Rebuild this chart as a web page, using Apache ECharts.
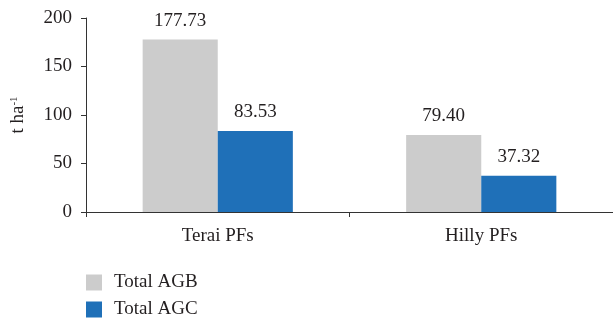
<!DOCTYPE html>
<html>
<head>
<meta charset="utf-8">
<script src="https://cdn.jsdelivr.net/npm/echarts@6/dist/echarts.min.js"></script>
<style>
  html, body { margin: 0; padding: 0; background: #fff; }
  #chart { width: 613px; height: 319px; }
</style>
</head>
<body>
<div id="chart"></div>
<script>
const categories = ['Terai PFs', 'Hilly PFs']
const agbValues = [177.73, 79.40]
const agcValues = [83.53, 37.32]
const yTicks = [0, 50, 100, 150, 200]

const font = 'Liberation Serif'
const textColor = '#231f20'

const chart = echarts.init(document.getElementById('chart'))
chart.setOption({
  animation: false,
  textStyle: { fontFamily: font },
  grid: { left: 86, right: 0, top: 18, bottom: 107, containLabel: false, outerBoundsMode: 'none' },
  legend: {
    orient: 'vertical',
    left: 86,
    top: 273,
    height: 60,
    padding: 0,
    itemWidth: 16,
    itemHeight: 16,
    itemGap: 8,
    icon: 'rect',
    textStyle: { fontFamily: font, fontSize: 19, lineHeight: 16, color: textColor, padding: [0, 0, 0, 7] },
    data: ['Total AGB', 'Total AGC']
  },
  xAxis: {
    type: 'category',
    data: categories,
    axisLine: { lineStyle: { color: '#333', width: 1 } },
    axisTick: { show: true, length: 5, lineStyle: { color: '#333' } },
    axisLabel: { fontFamily: font, fontSize: 19, color: textColor, margin: 15 }
  },
  yAxis: {
    type: 'value',
    min: yTicks[0],
    max: yTicks[yTicks.length - 1],
    interval: 50,
    name: 't ha{sup|-1}',
    nameLocation: 'middle',
    nameRotate: 90,
    nameGap: 58,
    nameTextStyle: {
      fontFamily: font, fontSize: 19, color: textColor,
      rich: { sup: { fontFamily: font, fontSize: 11, color: textColor, verticalAlign: 'top', padding: [0, 0, 8, 0] } }
    },
    axisLine: { show: true, lineStyle: { color: '#333', width: 1 } },
    axisTick: { show: true, length: 5, lineStyle: { color: '#333' } },
    splitLine: { show: false },
    axisLabel: { fontFamily: font, fontSize: 19, color: textColor, margin: 14 }
  },
  series: [
    {
      name: 'Total AGB',
      type: 'bar',
      data: agbValues,
      barGap: '0%',
      barCategoryGap: '43%',
      itemStyle: { color: '#cccccc' },
      label: {
        show: true, position: 'top', distance: 9,
        fontFamily: font, fontSize: 19, color: textColor,
        formatter: p => p.value.toFixed(2)
      }
    },
    {
      name: 'Total AGC',
      type: 'bar',
      data: agcValues,
      barGap: '0%',
      barCategoryGap: '43%',
      itemStyle: { color: '#1f70b8' },
      label: {
        show: true, position: 'top', distance: 9,
        fontFamily: font, fontSize: 19, color: textColor,
        formatter: p => p.value.toFixed(2)
      }
    }
  ]
})
</script>
</body>
</html>
